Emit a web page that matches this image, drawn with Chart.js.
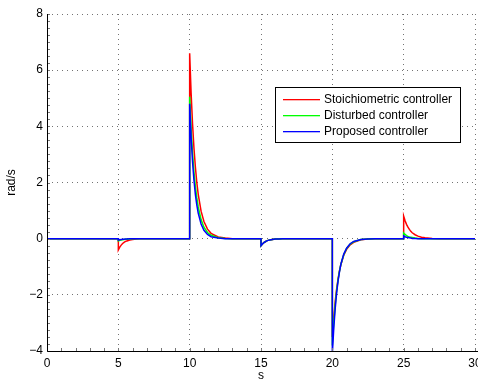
<!DOCTYPE html>
<html>
<head>
<meta charset="utf-8">
<script src="https://cdn.jsdelivr.net/npm/chart.js@4.4.0/dist/chart.umd.min.js"></script>
<style>
  html, body { margin: 0; padding: 0; background: #fff; overflow: hidden; }
  #wrap { position: relative; width: 490px; height: 381px; }
</style>
</head>
<body>
<div id="wrap"><canvas id="speedChart"></canvas></div>
<script>
// time samples (s), one block per disturbance at 5, 10, 15, 20, 25 s
const time = [0,
  5, 5, 5.1, 5.2, 5.3, 5.4, 5.5, 5.6, 5.8, 6, 6.25, 6.5, 7, 7.5, 8,
  10, 10, 10.1, 10.2, 10.3, 10.4, 10.5, 10.6, 10.8, 11, 11.25, 11.5, 12, 12.5, 13,
  15, 15, 15.1, 15.2, 15.3, 15.4, 15.5, 15.6, 15.8, 16, 16.25, 16.5, 17, 17.5, 18,
  20, 20, 20.1, 20.2, 20.3, 20.4, 20.5, 20.6, 20.8, 21, 21.25, 21.5, 22, 22.5, 23,
  25, 25, 25.1, 25.2, 25.3, 25.4, 25.5, 25.6, 25.8, 26, 26.25, 26.5, 27, 27.5, 28,
  30];

const stoichiometric = [0,
  0, -0.4, -0.3, -0.23, -0.17, -0.13, -0.1, -0.08, -0.05, -0.03, -0.01, 0, 0, 0, 0,
  0, 6.6, 5.2, 4.1, 3.23, 2.55, 2.0, 1.58, 0.98, 0.61, 0.34, 0.19, 0.06, 0.02, 0,
  0, -0.25, -0.19, -0.14, -0.11, -0.08, -0.06, -0.05, -0.03, -0.01, -0.01, 0, 0, 0, 0,
  0, -3.5, -2.8, -2.24, -1.8, -1.44, -1.15, -0.92, -0.59, -0.38, -0.22, -0.13, -0.04, -0.01, 0,
  0, 0.8, 0.64, 0.51, 0.41, 0.33, 0.26, 0.21, 0.14, 0.09, 0.05, 0.03, 0.01, 0, 0,
  0];

const disturbed = [0,
  0, -0.08, -0.06, -0.05, -0.04, -0.03, -0.02, -0.02, -0.01, 0, 0, 0, 0, 0, 0,
  0, 5.05, 3.93, 3.06, 2.38, 1.86, 1.45, 1.13, 0.68, 0.41, 0.22, 0.12, 0.03, 0.01, 0,
  0, -0.25, -0.19, -0.14, -0.11, -0.08, -0.06, -0.05, -0.03, -0.01, -0.01, 0, 0, 0, 0,
  0, -3.8, -2.99, -2.36, -1.86, -1.47, -1.16, -0.91, -0.57, -0.35, -0.19, -0.11, -0.03, -0.01, 0,
  0, 0.2, 0.15, 0.11, 0.08, 0.06, 0.05, 0.04, 0.02, 0.01, 0, 0, 0, 0, 0,
  0];

const proposed = [0,
  0, -0.05, -0.04, -0.03, -0.02, -0.02, -0.01, -0.01, 0, 0, 0, 0, 0, 0, 0,
  0, 4.8, 3.63, 2.75, 2.09, 1.58, 1.2, 0.91, 0.52, 0.3, 0.15, 0.07, 0.02, 0, 0,
  0, -0.25, -0.19, -0.14, -0.11, -0.08, -0.06, -0.05, -0.03, -0.01, -0.01, 0, 0, 0, 0,
  0, -4.1, -3.19, -2.49, -1.94, -1.51, -1.18, -0.91, -0.55, -0.34, -0.18, -0.1, -0.03, -0.01, 0,
  0, 0.1, 0.07, 0.05, 0.04, 0.03, 0.02, 0.01, 0.01, 0, 0, 0, 0, 0, 0,
  0];

const seriesNames = ['Stoichiometric controller', 'Disturbed controller', 'Proposed controller'];
const xTicks = [0, 5, 10, 15, 20, 25, 30];
const yTicks = [-4, -2, 0, 2, 4, 6, 8];

const font = { family: "'Liberation Sans', Arial, sans-serif", size: 12 };
const lineColors = ['rgb(255,0,0)', 'rgb(0,255,0)', 'rgb(0,0,255)'];
const toPoints = vals => time.map((t, i) => ({ x: t, y: vals[i] }));

// solid left/bottom axes with small inward minor ticks, like matlab
const matlabAxes = {
    id: 'matlabAxes',
    afterDatasetsDraw(chart) {
        const { ctx, chartArea: a, scales: { x, y } } = chart;
        ctx.save();
        ctx.setLineDash([]);
        ctx.strokeStyle = '#777';
        ctx.lineWidth = 1;
        ctx.beginPath();
        for (let v = -4; v <= 8.001; v += 0.25) {
            const py = Math.round(y.getPixelForValue(v)) + 0.5;
            ctx.moveTo(a.left, py);
            ctx.lineTo(a.left + 3, py);
        }
        for (let v = 0; v <= 30.001; v += 1) {
            const px = Math.round(x.getPixelForValue(v)) + 0.5;
            ctx.moveTo(px, a.bottom);
            ctx.lineTo(px, a.bottom - 3);
        }
        ctx.stroke();
        ctx.strokeStyle = '#000';
        ctx.beginPath();
        ctx.moveTo(a.left + 0.5, a.top);
        ctx.lineTo(a.left + 0.5, a.bottom + 0.5);
        ctx.lineTo(a.right + 20, a.bottom + 0.5);
        ctx.stroke();
        ctx.restore();
    }
};

// legend box inside the plot
const matlabLegend = {
    id: 'matlabLegend',
    afterDraw(chart) {
        const ctx = chart.ctx;
        const bx = 275, by = 87, bw = 186, bh = 56;
        ctx.save();
        ctx.setLineDash([]);
        ctx.fillStyle = '#000';
        ctx.fillRect(bx, by, bw, bh);
        ctx.fillStyle = '#fff';
        ctx.fillRect(bx + 1, by + 1, bw - 2, bh - 2);
        ctx.font = '12px ' + font.family;
        ctx.textBaseline = 'middle';
        seriesNames.forEach((name, i) => {
            const ly = 99 + i * 16;
            ctx.fillStyle = lineColors[i];
            ctx.fillRect(283, ly, 37, 1.3);
            ctx.fillStyle = '#000';
            ctx.fillText(name, 324, ly + 1);
        });
        ctx.restore();
    }
};

const ctx = document.getElementById('speedChart').getContext('2d');
const speedChart = new Chart(ctx, {
    type: 'line',
    data: {
        datasets: [{
            label: seriesNames[0],
            data: toPoints(stoichiometric),
            borderColor: lineColors[0],
            order: 2
        }, {
            label: seriesNames[1],
            data: toPoints(disturbed),
            borderColor: lineColors[1],
            order: 1
        }, {
            label: seriesNames[2],
            data: toPoints(proposed),
            borderColor: lineColors[2],
            order: 0
        }]
    },
    options: {
        responsive: true,
        maintainAspectRatio: false,
        animation: false,
        layout: { padding: { left: 0, right: 15, top: 14, bottom: 0 } },
        elements: {
            point: { radius: 0 },
            line: { borderWidth: 1.5, tension: 0 }
        },
        plugins: {
            legend: { display: false },
            tooltip: { enabled: false }
        },
        scales: {
            x: {
                type: 'linear',
                min: 0,
                max: 30,
                afterBuildTicks: s => { s.ticks = xTicks.map(v => ({ value: v })); },
                afterFit: s => { s.height = 30; },
                grid: { color: 'rgba(0,0,0,0.55)', drawTicks: false },
                border: { display: false, dash: [1, 4] },
                ticks: { color: '#000', font: font, padding: 5, maxRotation: 0 },
                title: { display: true, text: 's', color: '#000', font: font, padding: { top: 0, bottom: -2 } }
            },
            y: {
                min: -4,
                max: 8,
                afterBuildTicks: s => { s.ticks = yTicks.map(v => ({ value: v })); },
                afterFit: s => { s.width = 47; },
                grid: { color: 'rgba(0,0,0,0.55)', drawTicks: false },
                border: { display: false, dash: [1, 4] },
                ticks: {
                    color: '#000',
                    font: font,
                    padding: 4,
                    callback: v => v < 0 ? '\u2212' + Math.abs(v) : String(v)
                },
                title: { display: true, text: 'rad/s', color: '#000', font: font, padding: { top: 4, bottom: 0 } }
            }
        }
    },
    plugins: [matlabAxes, matlabLegend]
});
</script>
</body>
</html>
